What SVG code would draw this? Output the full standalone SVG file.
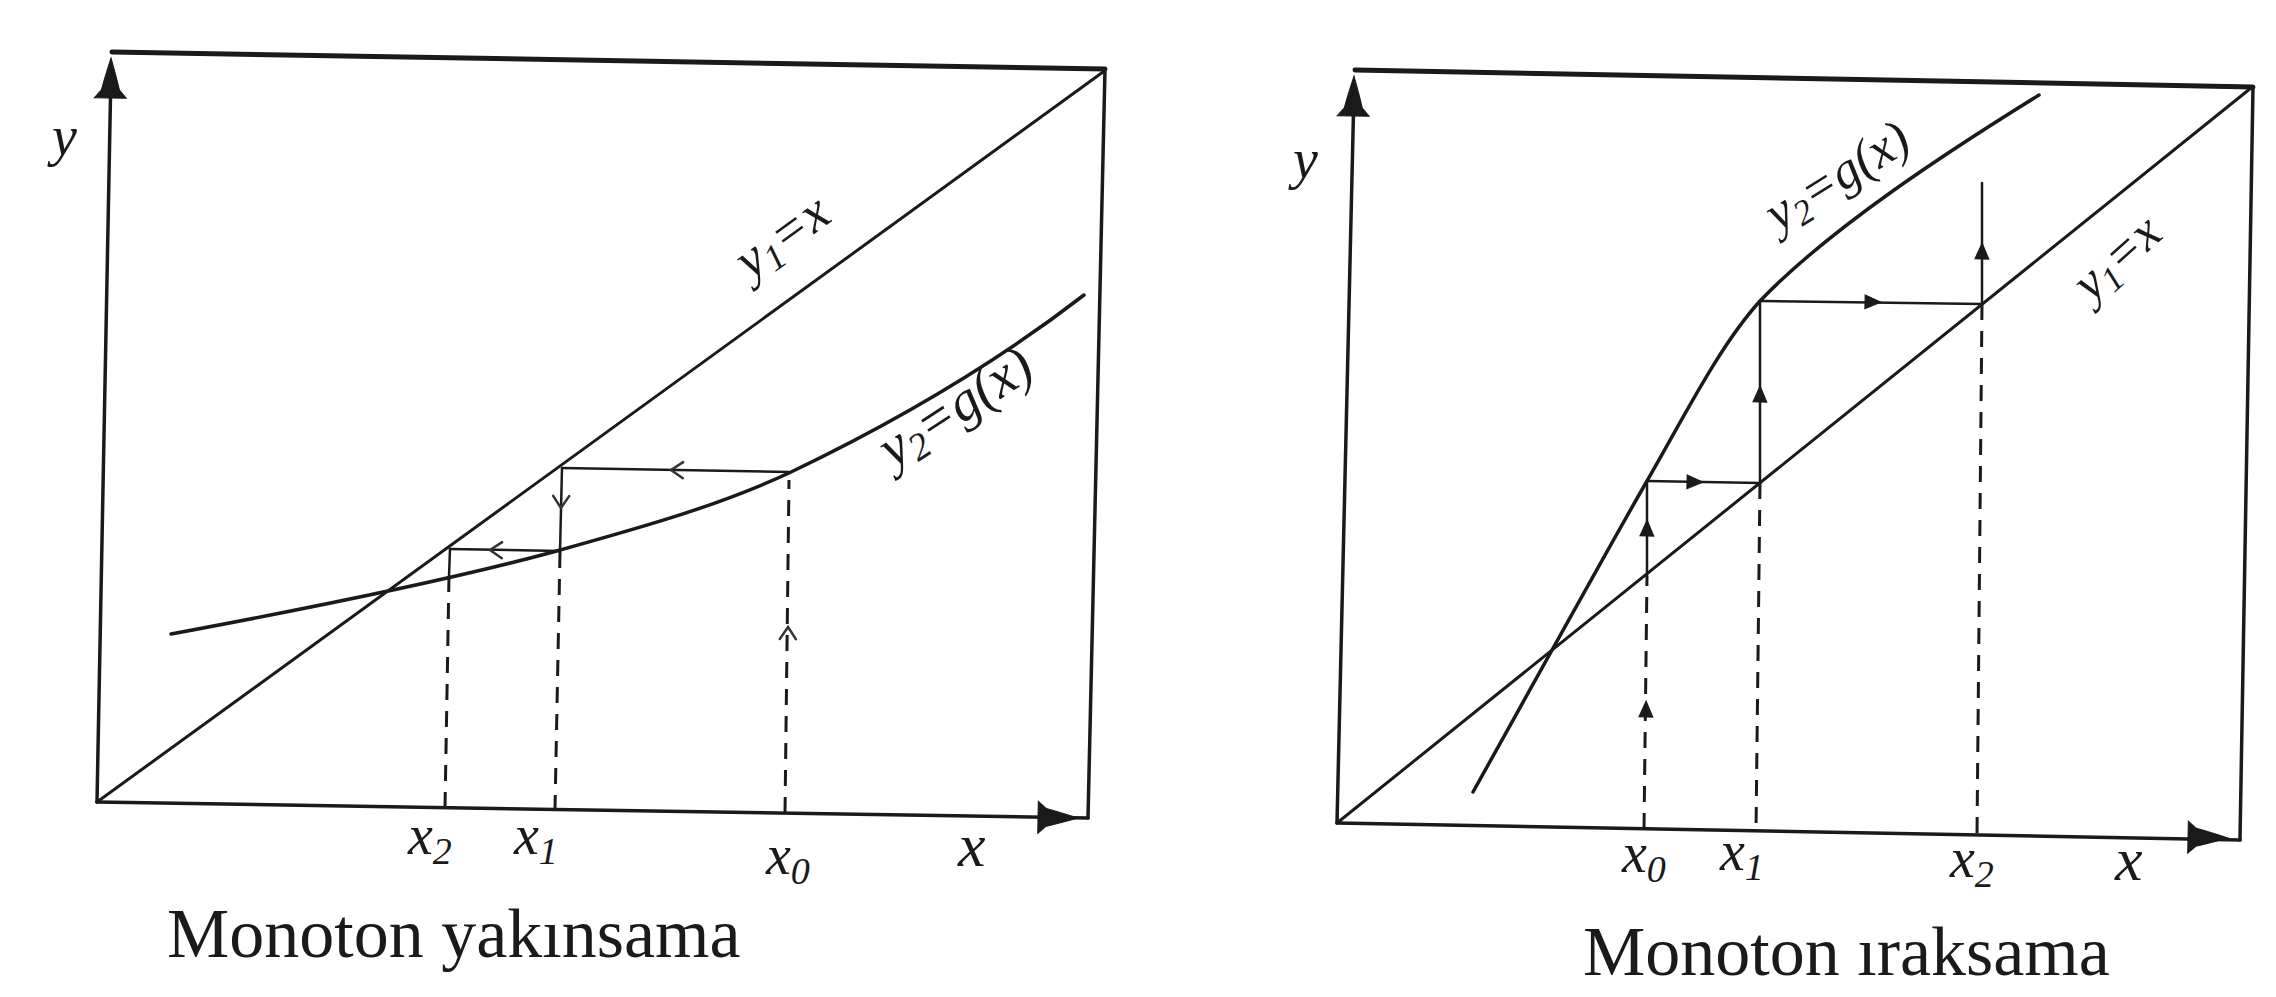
<svg xmlns="http://www.w3.org/2000/svg" width="2276" height="997" viewBox="0 0 2276 997">
<style>
.ln{stroke:#1a1a1a;fill:none;stroke-linecap:round;stroke-linejoin:round}
.frame{stroke-width:3.5}
.top{stroke-width:5}
.diag{stroke-width:3}
.curve{stroke-width:3.5}
.cob{stroke-width:2.5}
.dash{stroke-width:3;stroke-dasharray:16 11;stroke-linecap:butt}
.lbl{font-family:"Liberation Serif","Times New Roman",serif;font-style:italic;fill:#1a1a1a}
.cap{font-family:"Liberation Serif","Times New Roman",serif;fill:#1a1a1a;font-size:70px}
.sub{font-size:0.68em}
.chev{stroke:#333;stroke-width:2.5;fill:none;stroke-linecap:round}
.fill{fill:#1a1a1a;stroke:#1a1a1a;stroke-width:1}
</style>
<defs>
<path id="yarrow" d="M0,0 C3,10 7,24 9,32 L16,40 L-16,40 L-9,32 C-7,24 -3,10 0,0 Z"/>
<path id="chev" d="M-9,-8 L3,0 L-9,8"/>
<path id="tri" d="M-9,-7 L7,0 L-9,7 Z"/>
</defs>
<rect width="2276" height="997" fill="#ffffff"/>

<g id="left-panel">
  <g id="left-frame">
    <line class="ln top" x1="112" y1="52" x2="1105" y2="69"/>
    <line class="ln frame" x1="1105" y1="69" x2="1088" y2="818"/>
    <line class="ln frame" x1="97" y1="802" x2="111" y2="70"/>
    <line class="ln frame" stroke-width="4.5" x1="97" y1="802" x2="1088" y2="818"/>
    <use href="#yarrow" class="fill" transform="translate(111,58) rotate(1)"/>
    <use href="#yarrow" class="fill" transform="translate(1078,818) rotate(91)"/>
  </g>
  <g id="left-lines">
    <line class="ln diag" x1="97" y1="802" x2="1103" y2="72"/>
    <path class="ln curve" stroke-width="4.5" d="M171,634 C300,610 450,580 553,552 C650,525 720,505 789,473 C900,420 1000,360 1084,295"/>
  </g>
  <g id="left-cobweb">
    <line class="ln dash" x1="785" y1="813" x2="789" y2="480"/>
    <use href="#chev" class="chev" transform="translate(788,630) rotate(-89)"/>
    <line class="ln cob" x1="789" y1="472" x2="562" y2="468"/>
    <use href="#chev" class="chev" transform="translate(674,470) rotate(181)"/>
    <line class="ln cob" x1="562" y1="468" x2="560" y2="552"/>
    <use href="#chev" class="chev" transform="translate(561,505) rotate(91)"/>
    <line class="ln dash" x1="560" y1="552" x2="555" y2="809"/>
    <line class="ln cob" stroke="#555" x1="560" y1="551" x2="450" y2="549"/>
    <use href="#chev" class="chev" transform="translate(493,550) rotate(181)"/>
    <line class="ln cob" x1="450" y1="549" x2="449" y2="576"/>
    <line class="ln dash" x1="449" y1="576" x2="445" y2="808"/>
  </g>
  <g id="left-labels">
    <text class="lbl" x="52" y="155" font-size="56">y</text>
    <text class="lbl" font-size="54" transform="translate(792,250) rotate(-36)" text-anchor="middle">y<tspan class="sub" dy="8">1</tspan><tspan dy="-8">=x</tspan></text>
    <text class="lbl" font-size="56" transform="translate(965,422) rotate(-33)" text-anchor="middle">y<tspan class="sub" dy="8">2</tspan><tspan dy="-8">=g(x)</tspan></text>
    <text class="lbl" x="408" y="854" font-size="56">x<tspan class="sub" dy="10">2</tspan></text>
    <text class="lbl" x="514" y="854" font-size="56">x<tspan class="sub" dy="10">1</tspan></text>
    <text class="lbl" x="766" y="874" font-size="56">x<tspan class="sub" dy="10">0</tspan></text>
    <text class="lbl" x="958" y="866" font-size="62">x</text>
  </g>
  <text id="left-caption" class="cap" x="167" y="957">Monoton yakınsama</text>
</g>

<g id="right-panel">
  <g id="right-frame">
    <line class="ln top" x1="1355" y1="70" x2="2253" y2="87"/>
    <line class="ln frame" x1="2253" y1="87" x2="2240" y2="840"/>
    <line class="ln frame" x1="1337" y1="823" x2="1354" y2="90"/>
    <line class="ln frame" stroke-width="4.5" x1="1337" y1="823" x2="2240" y2="840"/>
    <use href="#yarrow" class="fill" transform="translate(1354,76) rotate(1.2)"/>
    <use href="#yarrow" class="fill" transform="translate(2228,838) rotate(91.2)"/>
  </g>
  <g id="right-lines">
    <line class="ln diag" x1="1337" y1="823" x2="2251" y2="88"/>
    <path class="ln curve" d="M1473,792 C1530,690 1610,545 1647,481 C1685,415 1720,345 1760,301 C1830,228 1950,150 2039,95"/>
  </g>
  <g id="right-cobweb">
    <line class="ln dash" x1="1644" y1="829" x2="1647" y2="576"/>
    <use href="#tri" class="fill" transform="translate(1646,708) rotate(-89)"/>
    <line class="ln cob" x1="1647" y1="576" x2="1647" y2="481"/>
    <use href="#tri" class="fill" transform="translate(1647,527) rotate(-89)"/>
    <line class="ln cob" stroke-width="3.5" x1="1647" y1="481" x2="1760" y2="483"/>
    <use href="#tri" class="fill" transform="translate(1696,482) rotate(1)"/>
    <line class="ln cob" x1="1760" y1="483" x2="1760" y2="301"/>
    <use href="#tri" class="fill" transform="translate(1760,393) rotate(-89)"/>
    <line class="ln dash" x1="1760" y1="483" x2="1756" y2="831"/>
    <line class="ln cob" stroke-width="3.5" x1="1760" y1="301" x2="1982" y2="304"/>
    <use href="#tri" class="fill" transform="translate(1874,302) rotate(1)"/>
    <line class="ln cob" x1="1982" y1="304" x2="1982" y2="183"/>
    <use href="#tri" class="fill" transform="translate(1982,250) rotate(-89)"/>
    <line class="ln dash" x1="1982" y1="304" x2="1977" y2="835"/>
  </g>
  <g id="right-labels">
    <text class="lbl" x="1293" y="178" font-size="56">y</text>
    <text class="lbl" font-size="52" transform="translate(1846,190) rotate(-32)" text-anchor="middle">y<tspan class="sub" dy="8">2</tspan><tspan dy="-8">=g(x)</tspan></text>
    <text class="lbl" font-size="52" transform="translate(2128,270) rotate(-42)" text-anchor="middle">y<tspan class="sub" dy="8">1</tspan><tspan dy="-8">=x</tspan></text>
    <text class="lbl" x="1622" y="872" font-size="56">x<tspan class="sub" dy="10">0</tspan></text>
    <text class="lbl" x="1720" y="870" font-size="56">x<tspan class="sub" dy="10">1</tspan></text>
    <text class="lbl" x="1950" y="877" font-size="56">x<tspan class="sub" dy="10">2</tspan></text>
    <text class="lbl" x="2115" y="880" font-size="62">x</text>
  </g>
  <text id="right-caption" class="cap" x="1583" y="975">Monoton ıraksama</text>
</g>
</svg>
